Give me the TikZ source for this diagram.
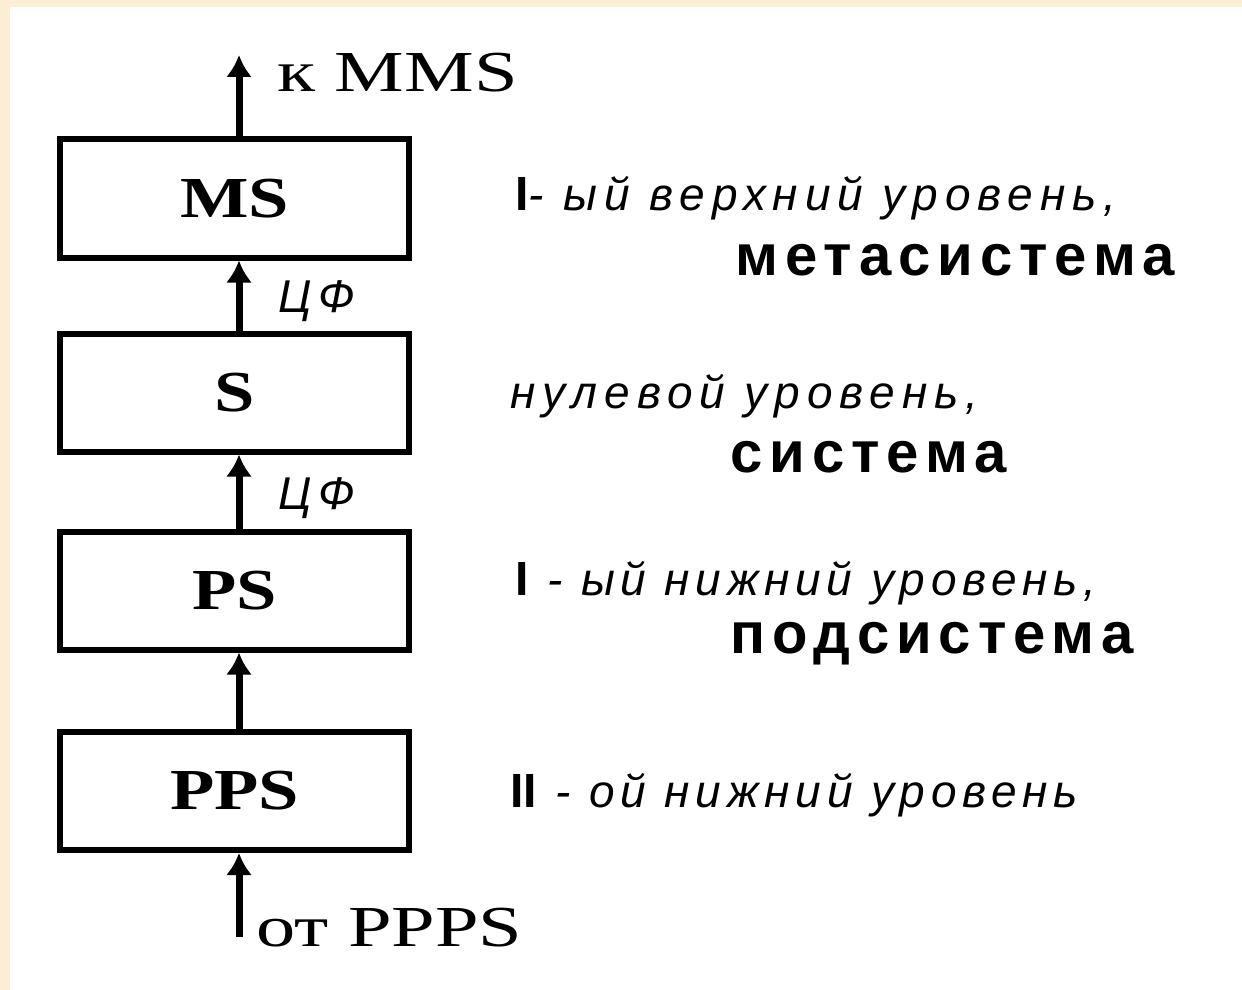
\documentclass[tikz,border=0pt]{standalone}
\usepackage{fontspec}
\setmainfont{Liberation Serif}
\setsansfont{Liberation Sans}
\newfontfamily\lvlfont[LetterSpace=15]{Liberation Sans}
\newfontfamily\lowfont[LetterSpace=12.5]{Liberation Sans}
\newfontfamily\sysfont[LetterSpace=12]{Liberation Sans}
\newfontfamily\boxfont[FakeStretch=1.25]{Liberation Serif}
\newfontfamily\outfont[FakeStretch=1.35]{Liberation Serif}
\usepackage{tikz}
\usetikzlibrary{arrows.meta,calc,positioning}
\definecolor{peach}{HTML}{FDEDD5}

\begin{document}
\begin{tikzpicture}[x=0.5pt,y=-0.5pt,
  levelbox/.style={draw,line width=3pt,minimum width=174.5pt,minimum height=59pt,
    inner sep=0pt,font=\boxfont\bfseries\fontsize{29}{29}\selectfont},
  flow/.style={line width=3.5pt,-{Latex[length=11pt,width=13pt]}},
  outtext/.style={anchor=base west,inner sep=0pt,font=\outfont\fontsize{29}{29}\selectfont},
  lvltext/.style={anchor=base west,inner sep=0pt,font=\lvlfont\itshape\fontsize{23}{23}\selectfont},
  lowtext/.style={lvltext,font=\lowfont\itshape\fontsize{23}{23}\selectfont},
  systext/.style={anchor=base west,inner sep=0pt,font=\sysfont\bfseries\fontsize{29}{29}\selectfont}]
\fill[white] (0,0) rectangle (1242,990);
\fill[peach] (0,0) rectangle (1242,7);
\fill[peach] (0,0) rectangle (10,990);
\useasboundingbox (0,0) rectangle (1242,990);

% the four levels
\node[levelbox] (ms) at (234.5,198.5) {MS};
\node[levelbox] (s) at (234.5,392.5) {S};
\node[levelbox] (ps) at (234.5,590.5) {PS};
\node[levelbox] (pps) at (234.5,791) {PPS};

\coordinate (mmsend) at (239,55);
\coordinate (pppsin) at (239,937);

\draw[flow] ([xshift=2.25pt]ms.north) -- (mmsend);
\draw[flow] ([xshift=2.25pt]s.north) -- ([xshift=2.25pt]ms.south);
\draw[flow] ([xshift=2.25pt]ps.north) -- ([xshift=2.25pt]s.south);
\draw[flow] ([xshift=2.25pt]pps.north) -- ([xshift=2.25pt]ps.south);
\draw[flow] (pppsin) -- ([xshift=2.25pt]pps.south);

\node[outtext] (tomms) at (277,92) {к MMS};
\node[outtext] (fromppps) at (256,946) {от PPPS};
\node[lvltext] (cf1) at (278,312) {ЦФ};
\node[lvltext] (cf2) at (278,509) {ЦФ};

% levels on the right
\node[lvltext] (lvlms) at (515,210) {{\sffamily\bfseries\upshape\fontsize{24}{24}\selectfont I}- ый верхний уровень,};
\node[systext] (sysms) at (735,275) {метасистема};
\node[lvltext] (lvls) at (510,408) {нулевой уровень,};
\node[systext] (syss) at (730,472) {система};
\node[lowtext] (lvlps) at (515,595) {{\sffamily\bfseries\upshape\fontsize{24}{24}\selectfont I} - ый нижний уровень,};
\node[systext] (sysps) at (730,653) {подсистема};
\node[lowtext] (lvlpps) at (510,807) {{\sffamily\bfseries\upshape\fontsize{24}{24}\selectfont II} - ой нижний уровень};
\end{tikzpicture}
\end{document}
